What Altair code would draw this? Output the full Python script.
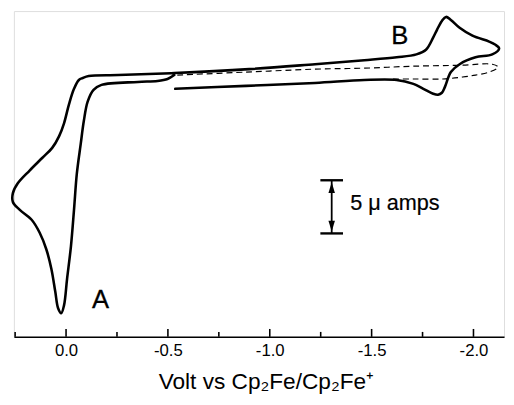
import altair as alt
import pandas as pd

# Cyclic voltammogram (potential in V vs Cp2Fe/Cp2Fe+, current in µA, arbitrary zero)
solid_v = [-0.536, -0.884, -1.222, -1.464, -1.623, -1.705, -1.754, -1.802, -1.826, -1.845,
           -1.860, -1.889, -1.932, -2.010, -2.092, -2.126, -2.106, -2.077, -1.995, -1.932,
           -1.889, -1.865, -1.845, -1.821, -1.802, -1.768, -1.720, -1.623, -1.464, -1.222,
           -0.899, -0.531, -0.256, -0.111, -0.082, -0.063, -0.039, -0.014, 0.010, 0.034,
           0.068, 0.116, 0.179, 0.237, 0.261, 0.261, 0.227, 0.169, 0.130, 0.097,
           0.072, 0.053, 0.039, 0.024, 0.010, -0.005, -0.024, -0.039, -0.053, -0.072,
           -0.087, -0.106, -0.135, -0.174, -0.353, -0.449, -0.498, -0.531]
solid_i = [-0.648, -0.370, -0.093, 0.185, 0.185, -0.185, -0.648, -1.111, -1.204, -1.019,
           -0.463, 0.926, 1.667, 2.315, 2.593, 3.148, 3.519, 3.796, 4.352, 5.093,
           5.833, 6.119, 5.741, 4.907, 4.167, 3.056, 2.593, 2.315, 2.037, 1.667,
           1.204, 0.833, 0.648, 0.556, 0.370, 0.185, -0.648, -2.130, -3.889, -5.093,
           -6.204, -7.130, -8.333, -9.537, -10.463, -11.296, -12.037, -12.963, -14.167, -15.741,
           -17.593, -19.722, -21.296, -21.759, -21.019, -18.519, -15.463, -12.037, -8.611, -5.833,
           -3.704, -1.852, -0.741, -0.278, 0.000, 0.093, 0.278, 0.648]

dash_v = [-0.546, -0.884, -1.222, -1.464, -1.705, -1.947, -2.092, -2.121,
          -2.077, -2.010, -1.947, -1.850, -1.705, -1.585]
dash_i = [0.648, 0.926, 1.204, 1.296, 1.481, 1.574, 1.667, 1.389,
          0.926, 0.648, 0.463, 0.278, 0.278, 0.278]

major_ticks = [0.0, -0.5, -1.0, -1.5, -2.0]
minor_ticks = [0.25, -0.25, -0.75, -1.25, -1.75]

peak_names = ["A", "B"]
peak_v = [-0.169, -1.638]
peak_i = [-20.56, 4.35]

scale_bar_v = [-1.304]
scale_bar_lo = [-14.25]
scale_bar_hi = [-9.25]
arrow_up_i = [-9.95]
arrow_down_i = [-13.57]
scale_text = ["5 μ amps"]
scale_text_v = [-1.395]
scale_text_i = [-11.39]

x_title = "Volt vs Cp₂Fe/Cp₂Fe⁺"

FONT = "Liberation Sans"
xs = alt.Scale(domain=[-2.15, 0.256], reverse=True, nice=False, zero=False)
ys = alt.Scale(domain=[-23.98, 6.667], nice=False, zero=False)

x_axis = alt.Axis(
    values=major_ticks,
    labelExpr="datum.value == 0 ? '0.0' : '-' + format(abs(datum.value), '.1f')",
    ticks=False, grid=False,
    domainColor="black", domainWidth=1.6,
    labelFont=FONT, labelFontSize=17, labelColor="black", labelPadding=6,
    title=x_title, titleFont=FONT, titleFontSize=23, titleFontWeight="normal",
    titleColor="black", titlePadding=12, titleX=256, titleAlign="center",
)

def X():
    return alt.X("v:Q", scale=xs, axis=x_axis)

solid = pd.DataFrame({"v": solid_v, "i": solid_i, "k": list(range(len(solid_v)))})
dash = pd.DataFrame({"v": dash_v, "i": dash_i, "k": list(range(len(dash_v)))})

line_solid = alt.Chart(solid).mark_line(
    color="black", strokeWidth=2.6, interpolate="catmull-rom",
    strokeCap="round", strokeJoin="round"
).encode(x=X(), y=alt.Y("i:Q", scale=ys, axis=None), order="k:Q")

line_dash = alt.Chart(dash).mark_line(
    color="black", strokeWidth=1.2, strokeDash=[6, 4], interpolate="catmull-rom"
).encode(x=X(), y=alt.Y("i:Q", scale=ys, axis=None), order="k:Q")

major = alt.Chart(pd.DataFrame({"v": major_ticks})).mark_rule(
    color="black", strokeWidth=1.6
).encode(x=X(), y=alt.value(323), y2=alt.value(331))

minor = alt.Chart(pd.DataFrame({"v": minor_ticks})).mark_rule(
    color="black", strokeWidth=1.6
).encode(x=X(), y=alt.value(326), y2=alt.value(331))

peaks = alt.Chart(pd.DataFrame({"v": peak_v, "i": peak_i, "t": peak_names})).mark_text(
    font=FONT, fontSize=26, color="black", align="center", baseline="middle",
    stroke="black", strokeWidth=0.3
).encode(x=X(), y=alt.Y("i:Q", scale=ys, axis=None), text="t:N")

bar_df = pd.DataFrame({"v": scale_bar_v, "lo": scale_bar_lo, "hi": scale_bar_hi})
bar_line = alt.Chart(bar_df).mark_rule(color="black", strokeWidth=1.8).encode(
    x=X(), y=alt.Y("lo:Q", scale=ys, axis=None), y2="hi:Q")
bar_top = alt.Chart(bar_df).mark_tick(
    color="black", orient="horizontal", size=23, thickness=2.4, opacity=1
).encode(x=X(), y=alt.Y("hi:Q", scale=ys, axis=None))
bar_bot = alt.Chart(bar_df).mark_tick(
    color="black", orient="horizontal", size=23, thickness=2.4, opacity=1
).encode(x=X(), y=alt.Y("lo:Q", scale=ys, axis=None))

arrow_up = alt.Chart(pd.DataFrame({"v": scale_bar_v, "i": arrow_up_i})).mark_point(
    shape="M0,-1L0.6,1L-0.6,1Z", filled=True, size=121, color="black", opacity=1
).encode(x=X(), y=alt.Y("i:Q", scale=ys, axis=None))
arrow_down = alt.Chart(pd.DataFrame({"v": scale_bar_v, "i": arrow_down_i})).mark_point(
    shape="M0,1L0.6,-1L-0.6,-1Z", filled=True, size=121, color="black", opacity=1
).encode(x=X(), y=alt.Y("i:Q", scale=ys, axis=None))

bar_text = alt.Chart(pd.DataFrame({"v": scale_text_v, "i": scale_text_i, "t": scale_text})).mark_text(
    font=FONT, fontSize=22, color="black", align="left", baseline="middle",
    stroke="black", strokeWidth=0.2
).encode(x=X(), y=alt.Y("i:Q", scale=ys, axis=None), text="t:N")

chart = alt.layer(
    line_dash, line_solid, major, minor, peaks, bar_line, bar_top, bar_bot,
    arrow_up, arrow_down, bar_text
).properties(
    width=498, height=331,
    autosize=alt.AutoSizeParams(type="none"),
    padding={"left": 6, "top": 0, "right": 2, "bottom": 58},
).configure_view(stroke=None).configure(background="white")

chart.save("out.html", embed_options={"renderer": "svg", "actions": False})
